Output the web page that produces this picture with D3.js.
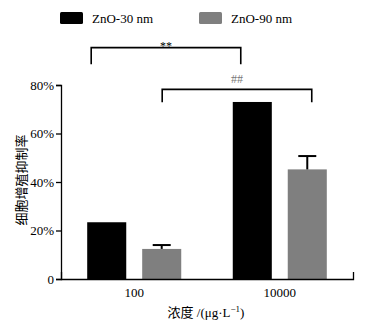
<!doctype html>
<html>
<head>
<meta charset="utf-8"/>
<script src="https://cdnjs.cloudflare.com/ajax/libs/d3/7.8.5/d3.min.js"></script>
<style>
  body { margin: 0; background: #fff; }
  svg text { font-family: "Liberation Serif", "Times New Roman", serif; }
  .cjk { font-family: "Noto Sans CJK SC", sans-serif; }
</style>
</head>
<body>
<svg id="chart" width="379" height="328"></svg>
<script>
// data
var groups = ["100", "10000"];
var series = ["ZnO-30 nm", "ZnO-90 nm"];
var values30 = [23.4, 73.0];
var values90 = [12.4, 45.2];
var errors30 = [0.4, 0];
var errors90 = [1.6, 5.5];
var yTicks = [0, 20, 40, 60, 80];
var colors = ["#000000", "#7f7f7f"];

var svg = d3.select("#chart");

var y = d3.scaleLinear().domain([0, 80]).range([279, 85]);
var x0 = d3.scaleBand().domain(groups).range([61, 353])
  .paddingInner(0.354).paddingOuter(0.18);
var x1 = d3.scaleBand().domain(series).range([0, x0.bandwidth()])
  .paddingInner(0.29).paddingOuter(0);

var rows = [];
groups.forEach(function (g, i) {
  rows.push({ g: g, s: series[0], v: values30[i], e: errors30[i], c: colors[0] });
  rows.push({ g: g, s: series[1], v: values90[i], e: errors90[i], c: colors[1] });
});

// bars
svg.append("g").selectAll("rect")
  .data(rows).enter().append("rect")
  .attr("x", function (d) { return x0(d.g) + x1(d.s); })
  .attr("y", function (d) { return y(d.v); })
  .attr("width", x1.bandwidth())
  .attr("height", function (d) { return y(0) - y(d.v); })
  .attr("fill", function (d) { return d.c; });

// error bars (upper only)
var eb = svg.append("g").selectAll("g")
  .data(rows.filter(function (d) { return d.e > 0.5; })).enter().append("g");
eb.append("line")
  .attr("x1", function (d) { return x0(d.g) + x1(d.s) + x1.bandwidth() / 2; })
  .attr("x2", function (d) { return x0(d.g) + x1(d.s) + x1.bandwidth() / 2; })
  .attr("y1", function (d) { return y(d.v); })
  .attr("y2", function (d) { return y(d.v + d.e); })
  .attr("stroke", "#000").attr("stroke-width", 2);
eb.append("line")
  .attr("x1", function (d) { return x0(d.g) + x1(d.s) + x1.bandwidth() / 2 - 9; })
  .attr("x2", function (d) { return x0(d.g) + x1(d.s) + x1.bandwidth() / 2 + 9; })
  .attr("y1", function (d) { return y(d.v + d.e); })
  .attr("y2", function (d) { return y(d.v + d.e); })
  .attr("stroke", "#000").attr("stroke-width", 2);

// axes
var yAxis = d3.axisLeft(y).tickValues(yTicks).tickSizeOuter(0).tickSize(5)
  .tickFormat(function (d) { return d === 0 ? "0" : d + "%"; });
var gy = svg.append("g").attr("transform", "translate(61,0)").call(yAxis);
gy.selectAll("text").style("font-size", "13px").attr("fill", "#000").attr("x", -7);
gy.selectAll("path, line").attr("stroke", "#000").attr("stroke-width", 1.3);

var xAxis = d3.axisBottom(x0).tickSizeInner(0).tickSizeOuter(-7).tickPadding(9);
var gx = svg.append("g").attr("transform", "translate(0,279)").call(xAxis);
gx.selectAll("text").style("font-size", "13px").attr("fill", "#000");
gx.selectAll("path").attr("stroke", "#000").attr("stroke-width", 1.3);

// axis titles
svg.append("text").attr("class", "cjk")
  .attr("transform", "translate(26,180) rotate(-90)")
  .attr("text-anchor", "middle").style("font-size", "13px")
  .text("细胞增殖抑制率");

var xt = svg.append("text")
  .attr("x", 206).attr("y", 317)
  .attr("text-anchor", "middle").style("font-size", "13px");
xt.append("tspan").attr("class", "cjk").text("浓度");
xt.append("tspan").text(" /(μg·L");
xt.append("tspan").attr("dy", -5).style("font-size", "9px").text("−1");
xt.append("tspan").attr("dy", 5).text(")");

// significance brackets
var brackets = [
  { x1: x0("100") + 4, x2: x0("10000") + 8, top: 95.4, bottom: 88.6, label: "**", color: "#000" },
  { x1: x0("100") + x1(series[1]) + 20, x2: x0("10000") + x1(series[1]) + 24, top: 78.2, bottom: 72.9, label: "##", color: "#777" }
];
brackets.forEach(function (b) {
  svg.append("path")
    .attr("d", "M" + b.x1 + "," + y(b.bottom) + "V" + y(b.top) + "H" + b.x2 + "V" + y(b.bottom))
    .attr("fill", "none").attr("stroke", "#000").attr("stroke-width", 1.6);
  svg.append("text")
    .attr("x", (b.x1 + b.x2) / 2).attr("y", y(b.top) - (b.label === "**" ? -2 : 6))
    .attr("text-anchor", "middle").style("font-size", "12px")
    .attr("fill", b.color).text(b.label);
});

// legend
var legend = svg.append("g").selectAll("g")
  .data(series).enter().append("g")
  .attr("transform", function (d, i) { return "translate(" + (60 + i * 139) + ",12)"; });
legend.append("rect").attr("width", 23).attr("height", 12).attr("rx", 1.5)
  .attr("fill", function (d, i) { return colors[i]; });
legend.append("text").attr("x", 32).attr("y", 11)
  .style("font-size", "13px").text(function (d) { return d; });
</script>
</body>
</html>
